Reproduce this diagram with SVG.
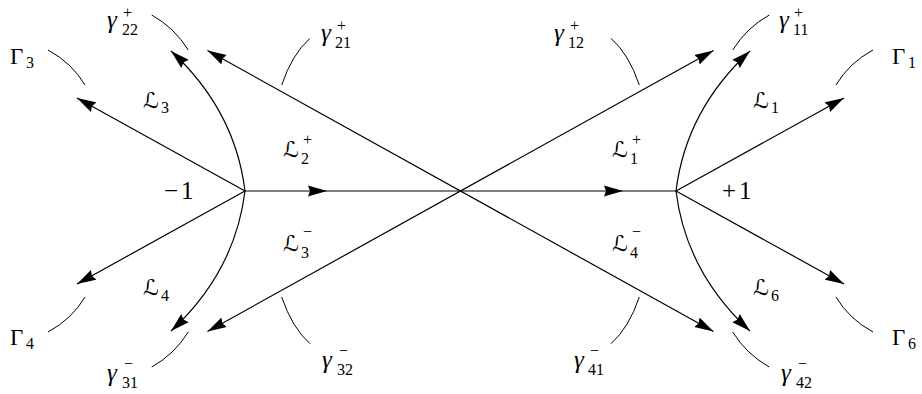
<svg xmlns="http://www.w3.org/2000/svg" width="922" height="394" viewBox="0 0 922 394">
<style>
  .ln { fill: none; stroke: #000; stroke-width: 1.2; }
  .tk { fill: none; stroke: #000; stroke-width: 1; }
  text, tspan { font-family: "Liberation Serif", "DejaVu Serif", serif; fill: #000; }
  .m { font-family: "Liberation Serif", serif; font-size: 23px; }
  .g { font-family: "Liberation Serif", serif; font-size: 25px; font-style: italic; }
  .s { font-family: "Liberation Serif", serif; font-size: 16px; }
  .n { font-family: "Liberation Serif", serif; font-size: 25px; }
  .cal { font-family: "DejaVu Serif", "DejaVu Sans", serif; font-size: 22px; }
</style>
<defs>
  <marker id="ah" viewBox="-19 -6 19 12" refX="0" refY="0" markerWidth="19" markerHeight="12" markerUnits="userSpaceOnUse" orient="auto-start-reverse">
    <path d="M0,0 L-19,-5.5 L-17,0 L-19,5.5 Z" fill="#000"/>
  </marker>
</defs>
<rect width="922" height="394" fill="#fff"/>
<g id="connectors">
  <path class="ln" d="M245,191 L327,191" marker-end="url(#ah)"/>
  <path class="ln" d="M327,191 L623,191" marker-end="url(#ah)"/>
  <path class="ln" d="M623,191 L676,191"/>
  <path class="ln" d="M207.5,50.5 L713.5,331.5" marker-start="url(#ah)" marker-end="url(#ah)"/>
  <path class="ln" d="M713.5,50.5 L207.5,331.5" marker-start="url(#ah)" marker-end="url(#ah)"/>
  <path class="ln" d="M245,191 L77,98" marker-end="url(#ah)"/>
  <path class="ln" d="M245,191 L77,284" marker-end="url(#ah)"/>
  <path class="ln" d="M676,191 L844,98" marker-end="url(#ah)"/>
  <path class="ln" d="M676,191 L844,284" marker-end="url(#ah)"/>
  <path class="ln" d="M245,191 Q235,110 171,51" marker-end="url(#ah)"/>
  <path class="ln" d="M245,191 Q235,272 171,331" marker-end="url(#ah)"/>
  <path class="ln" d="M676,191 Q686,110 750,51" marker-end="url(#ah)"/>
  <path class="ln" d="M676,191 Q686,272 750,331" marker-end="url(#ah)"/>
</g>
<g id="ticks">
  <path class="tk" d="M48,50 Q72,63 85,85"/>
  <path class="tk" d="M151.7,15 Q174.2,27.5 188.3,50"/>
  <path class="tk" d="M310,38.3 Q292,54.3 281.7,85"/>
  <path class="tk" d="M873,50 Q849,63 836,85"/>
  <path class="tk" d="M769.3,15 Q746.8,27.5 732.7,50"/>
  <path class="tk" d="M611,38.3 Q629,54.3 639.3,85"/>
  <path class="tk" d="M48,332 Q72,319 85,297"/>
  <path class="tk" d="M151.7,367 Q174.2,354.5 188.3,332"/>
  <path class="tk" d="M310,343.7 Q292,327.7 281.7,297"/>
  <path class="tk" d="M873,332 Q849,319 836,297"/>
  <path class="tk" d="M769.3,367 Q746.8,354.5 732.7,332"/>
  <path class="tk" d="M611,343.7 Q629,327.7 639.3,297"/>
</g>
<g id="node-minus1"><text><tspan class="n" x="164" y="199">−</tspan><tspan class="n" x="181" y="199">1</tspan></text></g>
<g id="node-plus1"><text><tspan class="n" x="722" y="199">+</tspan><tspan class="n" x="739" y="199">1</tspan></text></g>
<g id="label-Gamma3"><text><tspan class="m" x="10" y="64">Γ</tspan><tspan class="s" x="26" y="68">3</tspan></text></g>
<g id="label-Gamma1"><text><tspan class="m" x="892" y="64">Γ</tspan><tspan class="s" x="908" y="68">1</tspan></text></g>
<g id="label-Gamma4"><text><tspan class="m" x="10" y="345">Γ</tspan><tspan class="s" x="26" y="349">4</tspan></text></g>
<g id="label-Gamma6"><text><tspan class="m" x="892" y="345">Γ</tspan><tspan class="s" x="908" y="349">6</tspan></text></g>
<g id="label-g22p"><text><tspan class="g" x="107" y="28">γ</tspan><tspan class="s" x="122" y="35">22</tspan><tspan class="s" x="123" y="18">+</tspan></text></g>
<g id="label-g21p"><text><tspan class="g" x="321" y="41">γ</tspan><tspan class="s" x="335" y="48">21</tspan><tspan class="s" x="337" y="31">+</tspan></text></g>
<g id="label-g12p"><text><tspan class="g" x="554" y="41">γ</tspan><tspan class="s" x="568" y="48">12</tspan><tspan class="s" x="570" y="31">+</tspan></text></g>
<g id="label-g11p"><text><tspan class="g" x="779" y="28">γ</tspan><tspan class="s" x="793" y="35">11</tspan><tspan class="s" x="794" y="18">+</tspan></text></g>
<g id="label-g31m"><text><tspan class="g" x="107" y="381">γ</tspan><tspan class="s" x="122" y="388">31</tspan><tspan class="s" x="124" y="369">−</tspan></text></g>
<g id="label-g32m"><text><tspan class="g" x="322" y="368">γ</tspan><tspan class="s" x="337" y="375">32</tspan><tspan class="s" x="339" y="356">−</tspan></text></g>
<g id="label-g41m"><text><tspan class="g" x="574" y="368">γ</tspan><tspan class="s" x="588" y="375">41</tspan><tspan class="s" x="590" y="356">−</tspan></text></g>
<g id="label-g42m"><text><tspan class="g" x="781" y="381">γ</tspan><tspan class="s" x="796" y="388">42</tspan><tspan class="s" x="798" y="369">−</tspan></text></g>
<g id="label-L3"><text><tspan class="cal" x="143" y="108">ℒ</tspan><tspan class="s" x="161" y="113">3</tspan></text></g>
<g id="label-L1"><text><tspan class="cal" x="753" y="108">ℒ</tspan><tspan class="s" x="771" y="113">1</tspan></text></g>
<g id="label-L4"><text><tspan class="cal" x="143" y="295">ℒ</tspan><tspan class="s" x="161" y="301">4</tspan></text></g>
<g id="label-L6"><text><tspan class="cal" x="753" y="295">ℒ</tspan><tspan class="s" x="771" y="301">6</tspan></text></g>
<g id="label-L2p"><text><tspan class="cal" x="283" y="157">ℒ</tspan><tspan class="s" x="301" y="164">2</tspan><tspan class="s" x="303" y="145">+</tspan></text></g>
<g id="label-L1p"><text><tspan class="cal" x="612" y="157">ℒ</tspan><tspan class="s" x="630" y="164">1</tspan><tspan class="s" x="632" y="145">+</tspan></text></g>
<g id="label-L3m"><text><tspan class="cal" x="283" y="251">ℒ</tspan><tspan class="s" x="301" y="258">3</tspan><tspan class="s" x="303" y="237">−</tspan></text></g>
<g id="label-L4m"><text><tspan class="cal" x="612" y="251">ℒ</tspan><tspan class="s" x="630" y="258">4</tspan><tspan class="s" x="632" y="237">−</tspan></text></g>
</svg>
